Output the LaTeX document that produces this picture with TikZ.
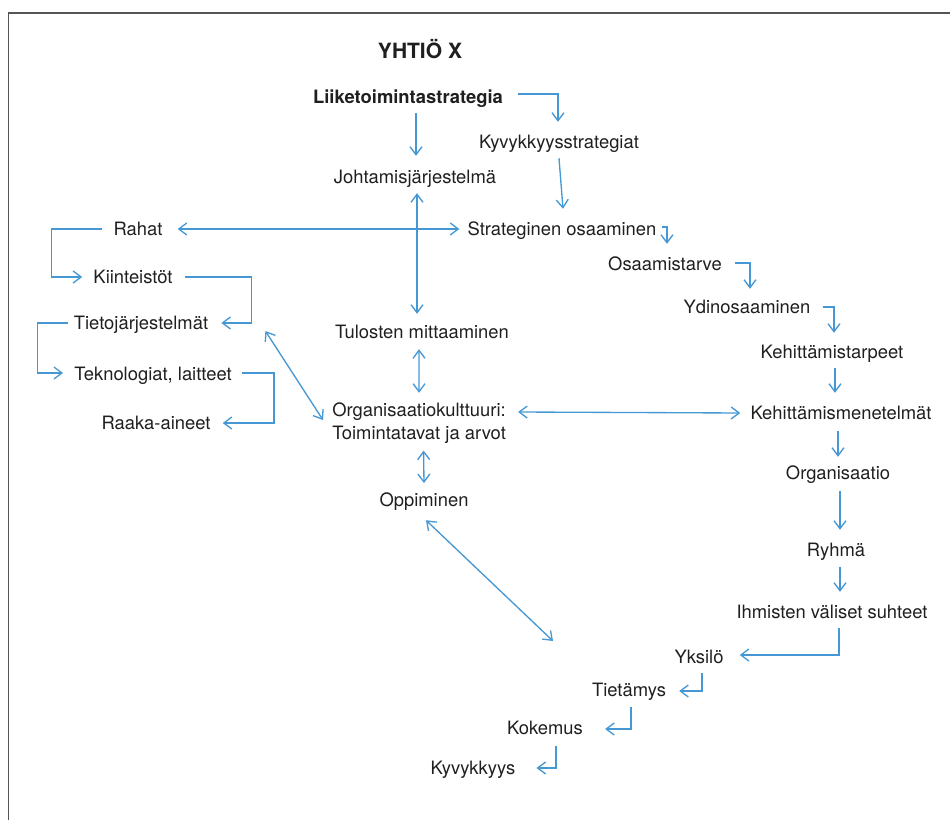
\documentclass[tikz,border=0pt]{standalone}
\usepackage{fontspec}
\setmainfont{TeX Gyre Heros}
\usepackage{tikz}
\usetikzlibrary{arrows.meta}
\definecolor{nuoli}{RGB}{70,152,212}
\definecolor{kehys}{RGB}{85,85,85}
\tikzset{
	txt/.style={font=\fontsize{13.8}{17.25}\selectfont, text=black!88, inner sep=0pt, text height=10pt, text depth=3pt},
	txtml/.style={font=\fontsize{13.8}{17.25}\selectfont, text=black!88, inner sep=0pt, align=left},
	lihava/.style={font=\fontsize{13.8}{17.25}\selectfont\bfseries},
	arr/.style={draw=nuoli, line width=1pt, -{Straight Barb[length=6pt,width=9pt]}},
	darr/.style={arr, {Straight Barb[length=6pt,width=9pt]}-{Straight Barb[length=6pt,width=9pt]}}
}
\newcommand{\kehys}{\draw[kehys, line width=1.3pt] (8.5,820) -- (8.5,13) -- (950,13);}

\begin{document}
\begin{tikzpicture}[x=0.75pt, y=-0.75pt]

					\useasboundingbox (0,0) rectangle (950,820);
					\kehys

					\node[txt, font=\fontsize{15.75}{19}\selectfont\bfseries] (otsikko) at (420,54) {YHTIÖ X};
					\node[txt, lihava] (liike) at (408,99) {Liiketoimintastrategia};
					\node[txt] (kyky) at (559,144) {Kyvykkyysstrategiat};
					\node[txt] (johto) at (415,179) {Johtamisjärjestelmä};
					\node[txt] (rahat) at (138,231) {Rahat};
					\node[txt] (strat) at (562,231) {Strateginen osaaminen};
					\node[txt] (kiint) at (133,279) {Kiinteistöt};
					\node[txt] (osaam) at (665,266) {Osaamistarve};
					\node[txt] (ydin) at (747,309) {Ydinosaaminen};
					\node[txt] (tieto) at (141,325) {Tietojärjestelmät};
					\node[txt] (tulos) at (422,334) {Tulosten mittaaminen};
					\node[txt] (kehit) at (832,354) {Kehittämistarpeet};
					\node[txt] (tekno) at (153,376) {Teknologiat, laitteet};
					\node[txt] (raaka) at (156,425) {Raaka-aineet};
					\node[txtml, anchor=west] (orgk) at (332,423.4) {Organisaatiokulttuuri:\\Toimintatavat ja arvot};
					\node[txt] (kehm) at (841,415) {Kehittämismenetelmät};
					\node[txt] (orgn) at (838,475) {Organisaatio};
					\node[txt] (oppi) at (424,502) {Oppiminen};
					\node[txt] (ryhma) at (836,552) {Ryhmä};
					\node[txt] (ihm) at (832,614) {Ihmisten väliset suhteet};
					\node[txt] (yksi) at (699,659) {Yksilö};
					\node[txt] (tiet) at (629,692) {Tietämys};
					\node[txt] (koke) at (545,730) {Kokemus};
					\node[txt] (kyvy) at (473,770) {Kyvykkyys};
					\coordinate (oppipaa) at (553,641);

					\draw[arr] ([shift={(15,-5)}]liike.east) -| ([shift={(-1,-13.3)}]kyky.north);
					\draw[arr] ([shift={(8,5.3)}]liike.south) -- ([shift={(1,-14.3)}]johto.north);
					\draw[arr] ([shift={(0,5.3)}]kyky.south) -- ([shift={(1,-13.3)}]strat.north);
					\draw[darr] ([shift={(15,-2)}]rahat.east) -- ([shift={(-8,-2)}]strat.west);
					\draw[darr] ([shift={(2,5.3)}]johto.south) -- ([shift={(-5,-11.3)}]tulos.north);

					\draw[arr] ([shift={(-11,-2)}]rahat.west) -- ++(-51,0) |- ([shift={(-11,-2)}]kiint.west);
					\draw[arr] ([shift={(12,-2)}]kiint.east) -- ++(67,0) |- ([shift={(13,-2)}]tieto.east);
					\draw[arr] ([shift={(-6,-2)}]tieto.west) -- ++(-30,0) |- ([shift={(-11,-3)}]tekno.west);
					\draw[arr] ([shift={(10,-3)}]tekno.east) -- ++(32,0) |- ([shift={(12,-2)}]raaka.east);

					\draw[darr] ([shift={(57,6)}]tieto.east) -- ([shift={(-9,-3.4)}]orgk.west);
					\draw[darr] ([shift={(-3,6.3)}]tulos.south) -- ([shift={(0,-10)}]orgk.north);
					\draw[darr] ([shift={(12,-11.4)}]orgk.east) -- ([shift={(-10,-2)}]kehm.west);
					\draw[darr] ([shift={(4.5,6.5)}]orgk.south) -- ([shift={(0,-10)}]oppi.north);
					\draw[darr] ([shift={(2,9.3)}]oppi.south) -- (oppipaa);

					\draw[arr] ([shift={(5,-4)}]strat.east) -| ([shift={(2,-13.3)}]osaam.north);
					\draw[arr] ([shift={(13,-3)}]osaam.east) -| ([shift={(3,-11.3)}]ydin.north);
					\draw[arr] ([shift={(12,-2)}]ydin.east) -| ([shift={(2,-12.3)}]kehit.north);
					\draw[arr] ([shift={(3,5.3)}]kehit.south) -- ([shift={(-6,-13.3)}]kehm.north);
					\draw[arr] ([shift={(-3,7.3)}]kehm.south) -- ([shift={(0,-9.3)}]orgn.north);
					\draw[arr] ([shift={(2,7.3)}]orgn.south) -- ([shift={(4,-13.3)}]ryhma.north);
					\draw[arr] ([shift={(4,6.3)}]ryhma.south) -- ([shift={(8,-13.3)}]ihm.north);

					\draw[arr] ([shift={(7,5.3)}]ihm.south) |- ([shift={(16,-4)}]yksi.east);
					\draw[arr] ([shift={(3,5.3)}]yksi.south) |- ([shift={(13,-1)}]tiet.east);
					\draw[arr] ([shift={(2,6.3)}]tiet.south) |- ([shift={(22,-1)}]koke.east);
					\draw[arr] ([shift={(11,7.3)}]koke.south) |- ([shift={(21,-2)}]kyvy.east);

\end{tikzpicture}
\end{document}
